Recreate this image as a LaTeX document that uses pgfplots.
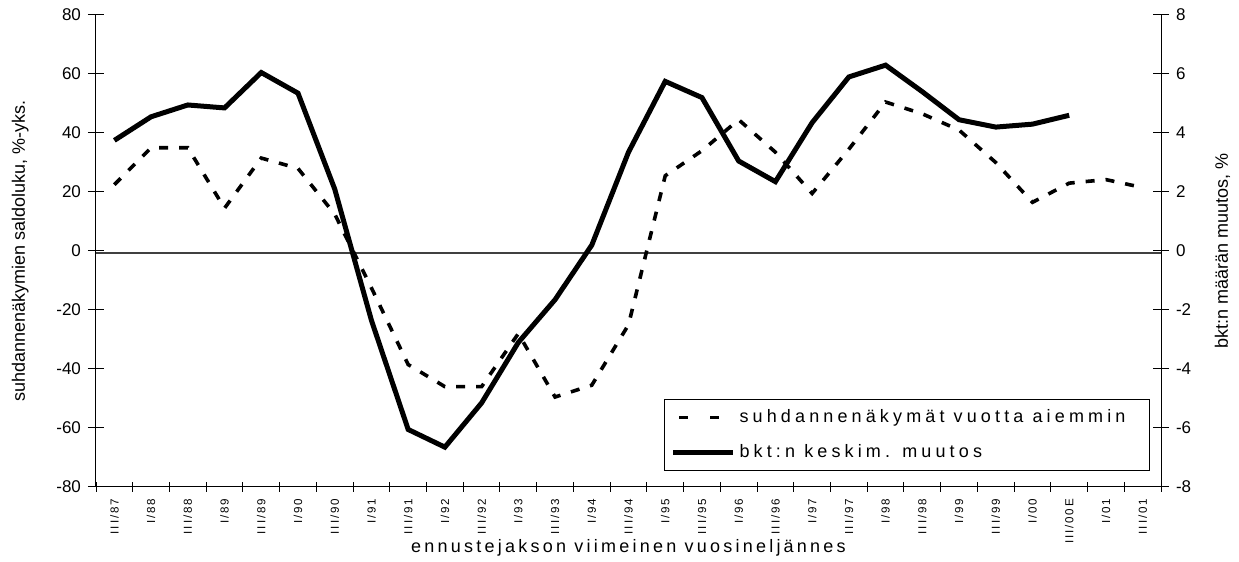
\documentclass[border=0pt]{standalone}
\usepackage{pgfplots}
\pgfplotsset{compat=1.18}
\usepackage{fontspec}
\setmainfont{Liberation Sans}
\newfontfamily\spaced[LetterSpace=18]{Liberation Sans}
\newfontfamily\legspaced[LetterSpace=23]{Liberation Sans}
\newfontfamily\tickspaced[LetterSpace=16]{Liberation Sans}

\pgfplotsset{
  dashleg/.style={legend image code/.code={\draw[##1, dash pattern=on 4.5pt off 11pt] (3pt,0pt) -- (23pt,0pt);}},
  solidleg/.style={legend image code/.code={\draw[##1] (0pt,0pt) -- (30pt,0pt);}},
}

\pgfplotstableread{
x y
0 22.5
1 35
2 35
3 14.5
4 31.5
5 28
6 12.5
7 -12.5
8 -38.5
9 -46
10 -46
11 -28
12 -49.5
13 -45.5
14 -25
15 25.5
16 34
17 44.5
18 33.5
19 19.5
20 34.5
21 50.5
22 46.5
23 41
24 30
25 16.5
26 23
27 24.2
28 21.5
}\dashtab

\pgfplotstableread{
x y
0 3.75
1 4.55
2 4.95
3 4.85
4 6.05
5 5.35
6 2.1
7 -2.35
8 -6.05
9 -6.65
10 -5.15
11 -3.1
12 -1.65
13 0.2
14 3.35
15 5.75
16 5.2
17 3.05
18 2.35
19 4.35
20 5.9
21 6.3
22 5.4
23 4.45
24 4.2
25 4.3
26 4.6
}\solidtab

\begin{document}
\begin{tikzpicture}
% x axis
\begin{axis}[
  scale only axis, width=532.5pt, height=236pt,
  xmin=-0.5, xmax=28.5, ymin=-80, ymax=80,
  axis x line*=bottom, axis y line=none,
  xtick={-0.5,0.5,...,28.5},
  x tick label as interval,
  xticklabels={III/87,I/88,III/88,I/89,III/89,I/90,III/90,I/91,III/91,I/92,III/92,I/93,III/93,I/94,III/94,I/95,III/95,I/96,III/96,I/97,III/97,I/98,III/98,I/99,III/99,I/00,III/00E,I/01,III/01},
  xticklabel style={rotate=90, anchor=east, font=\tickspaced\fontsize{5.8}{6.5}\selectfont},
  major tick length=5pt, tick align=center,
  axis line style={line width=0.5pt},
  every tick/.style={black, line width=0.5pt},
  xlabel={\spaced ennustejakson viimeinen vuosineljännes},
  xlabel style={at={(rel axis cs:0.5,0)}, anchor=center, yshift=-30.5pt, font=\fontsize{9}{11}\selectfont},
  clip=false,
]
\coordinate (BL) at (rel axis cs:0,0);
\coordinate (TR) at (rel axis cs:1,1);
\addplot[black!75, line width=0.6pt] coordinates {(-0.5,-0.7) (28.5,-0.7)};
\end{axis}
% left y axis
\begin{axis}[
  scale only axis, width=532.5pt, height=236pt,
  xmin=-0.5, xmax=28.5, ymin=-80, ymax=80,
  axis x line=none, axis y line*=left,
  xtick=\empty,
  ytick={-80,-60,...,80},
  yticklabels={-80,-60,-40,-20,0,20,40,60,80},
  yticklabel style={font=\fontsize{8.5}{10}\selectfont},
  major tick length=8pt, tick align=center,
  axis line style={line width=0.5pt},
  every tick/.style={black, line width=0.5pt},
  ylabel={suhdannenäkymien saldoluku, \%-yks.},
  ylabel style={font=\fontsize{9}{11}\selectfont},
  ylabel shift=7pt,
  clip=false,
]
\addplot[black, line width=1.8pt, dash pattern=on 4.5pt off 5.5pt] table[x=x,y=y] {\dashtab};
\end{axis}
% right y axis
\begin{axis}[
  scale only axis, width=532.5pt, height=236pt,
  xmin=-0.5, xmax=28.5, ymin=-8, ymax=8,
  axis x line=none, axis y line*=right,
  xtick=\empty,
  ytick={-8,-6,...,8},
  yticklabels={-8,-6,-4,-2,0,2,4,6,8},
  yticklabel style={font=\fontsize{8.5}{10}\selectfont},
  major tick length=8pt, tick align=center,
  axis line style={line width=0.5pt},
  every tick/.style={black, line width=0.5pt},
  ylabel={bkt:n määrän muutos, \%},
  ylabel style={font=\fontsize{9}{11}\selectfont},
  ylabel shift=5pt,
  clip=false,
  legend style={at={(rel axis cs:0.9897,0.1864)}, anchor=north east, draw=black, line width=0.5pt,
    font=\legspaced\fontsize{9}{11}\selectfont, inner sep=3pt, row sep=5.5pt},
  legend cell align=left,
]
\addlegendimage{black, line width=1.8pt, dashleg}
\addlegendentry{\makebox[200pt][l]{suhdannenäkymät vuotta aiemmin}}
\addplot[black, line width=2.5pt, solidleg] table[x=x,y=y] {\solidtab};
\addlegendentry{\makebox[200pt][l]{bkt:n keskim. muutos}}
\end{axis}
\pgfresetboundingbox
\path ([xshift=-48pt,yshift=-37.5pt]BL) rectangle ([xshift=39pt,yshift=7.5pt]TR);
\end{tikzpicture}
\end{document}
